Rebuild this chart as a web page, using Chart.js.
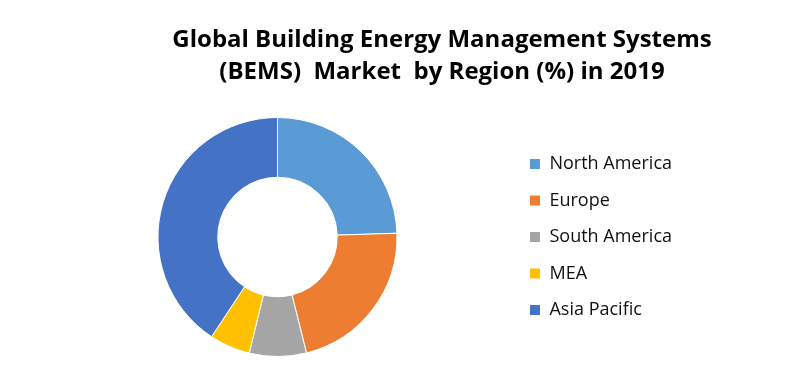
<!DOCTYPE html>
<html>
<head>
<meta charset="utf-8">
<script src="https://cdn.jsdelivr.net/npm/chart.js@4"></script>
<style>
  html, body { margin: 0; padding: 0; background: #fff; }
  #wrap { width: 804px; height: 372px; }
</style>
</head>
<body>
<div id="wrap"><canvas id="bemsChart" width="804" height="372"></canvas></div>
<script>
const regions = ['North America', 'Europe', 'South America', 'MEA', 'Asia Pacific'];
const shares = [24.5, 21.6, 7.7, 5.5, 40.7];
const sliceColors = ['#5B9BD5', '#ED7D31', '#A5A5A5', '#FFC000', '#4472C4'];
const titleLines = ['Global Building Energy Management Systems', '(BEMS)  Market  by Region (%) in 2019'];

// title drawn by hand so it can sit off-centre like the original
const titlePlugin = {
    id: 'offsetTitle',
    afterDraw(chart) {
        const c = chart.ctx;
        c.save();
        c.fillStyle = '#000';
        c.font = 'bold 24px "Open Sans"';
        c.textAlign = 'center';
        c.textBaseline = 'alphabetic';
        c.fillText(titleLines[0], 442, 47);
        c.fillText(titleLines[1], 442, 79);
        c.restore();
    }
};

const ctx = document.getElementById('bemsChart').getContext('2d');
const bemsChart = new Chart(ctx, {
    type: 'doughnut',
    data: {
        labels: regions,
        datasets: [{
            data: shares,
            backgroundColor: sliceColors,
            borderColor: '#fff',
            borderWidth: 1
        }]
    },
    options: {
        responsive: false,
        animation: false,
        cutout: '50%',
        layout: {
            padding: { left: 44, right: 122, top: 117, bottom: 15 }
        },
        plugins: {
            title: { display: false },
            tooltip: { enabled: false },
            legend: {
                position: 'right',
                labels: {
                    boxWidth: 11,
                    boxHeight: 11,
                    padding: 18.5,
                    color: '#111',
                    font: { family: 'Open Sans', size: 18 }
                }
            }
        }
    },
    plugins: [titlePlugin]
});
</script>
</body>
</html>
